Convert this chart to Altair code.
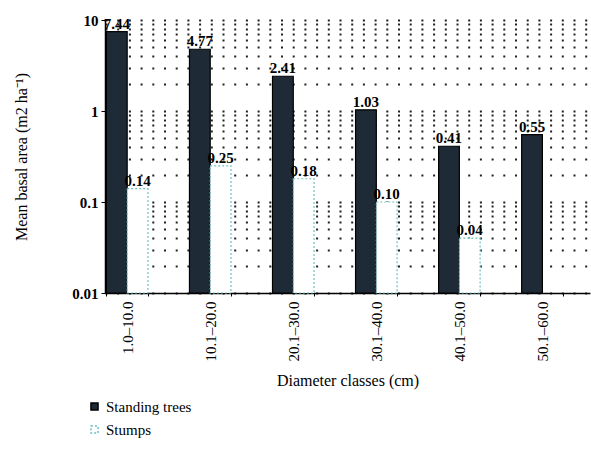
import altair as alt
import pandas as pd

classes = ["1.0–10.0", "10.1–20.0", "20.1–30.0", "30.1–40.0", "40.1–50.0", "50.1–60.0"]
standing = [7.44, 4.77, 2.41, 1.03, 0.41, 0.55]
stumps = [0.14, 0.25, 0.18, 0.10, 0.04, None]
series = ["Standing trees", "Stumps"]

rows = []
for c, s, t in zip(classes, standing, stumps):
    rows.append({"cls": c, "series": series[0], "value": s, "label": f"{s:.2f}"})
    if t is not None:
        rows.append({"cls": c, "series": series[1], "value": t, "label": f"{t:.2f}"})
df = pd.DataFrame(rows)

grid_vals = [round(m * 10 ** e, 4) for e in (-2, -1, 0) for m in range(1, 10)] + [10]
is_major = "abs(round(log(datum.value)/LN10) - log(datum.value)/LN10) < 1e-6"

FONT = "Liberation Serif"

x_enc = alt.X(
    "cls:N",
    sort=classes,
    scale=alt.Scale(paddingInner=0.5, paddingOuter=0.17, align=0.05),
    axis=alt.Axis(
        title="Diameter classes (cm)",
        labelAngle=-90,
        labelFont=FONT,
        labelFontSize=15,
        labelColor="black",
        labelPadding=5,
        titleFont=FONT,
        titleFontSize=16,
        titleFontWeight="normal",
        titleColor="black",
        titlePadding=11,
        domainColor="black",
        domainWidth=1.5,
        tickColor="black",
        tickSize=3,
        tickBand="extent",
        grid=False,
    ),
)
xoff = alt.XOffset("series:N", scale=alt.Scale(domain=series, paddingInner=0, paddingOuter=0))
y_scale = alt.Scale(type="log", domain=[0.01, 10], clamp=True, nice=False)

bars = alt.Chart(df).mark_bar(strokeWidth=1.2).encode(
    x=x_enc,
    xOffset=xoff,
    y=alt.Y(
        "value:Q",
        scale=y_scale,
        axis=alt.Axis(
            title="Mean basal area (m2 ha⁻¹)",
            values=grid_vals,
            format="~g",
            labelExpr=f"{is_major} ? datum.label : ''",
            labelFont=FONT,
            labelFontSize=15,
            labelFontWeight="bold",
            labelColor="black",
            labelPadding=3,
            titleFont=FONT,
            titleFontSize=16,
            titleFontWeight="normal",
            titleColor="black",
            titlePadding=42,
            domainColor="black",
            domainWidth=1.5,
            tickColor="black",
            tickSize=4,
            tickOpacity={"condition": {"test": is_major, "value": 1}, "value": 0},
            grid=True,
            gridColor="#222222",
            gridDash=[2, 9.7],
            gridWidth=1.8,
        ),
    ),
    y2=alt.Y2(datum=0.01),
    color=alt.Color(
        "series:N",
        scale=alt.Scale(domain=series, range=["#1e2a36", "#ffffff"]),
        legend=alt.Legend(
            title=None,
            orient="none",
            legendX=-18,
            legendY=379,
            symbolType="square",
            symbolSize=50,
            labelFont=FONT,
            labelFontSize=15,
            labelColor="black",
            rowPadding=7,
            labelFontWeight="normal",
        ),
    ),
    stroke=alt.Stroke("series:N", scale=alt.Scale(domain=series, range=["#000000", "#6fbfbf"]), legend=None),
    strokeDash=alt.StrokeDash("series:N", scale=alt.Scale(domain=series, range=[[1, 0], [2, 2]]), legend=None),
)

labels = alt.Chart(df).mark_text(
    font=FONT, fontSize=15, fontWeight="bold", color="black", dy=-8, baseline="middle"
).encode(
    x=alt.X("cls:N", sort=classes),
    xOffset=xoff,
    y=alt.Y("value:Q", scale=y_scale),
    text="label:N",
)

chart = (
    alt.layer(bars, labels)
    .properties(
        width=485,
        height=273,
        autosize=alt.AutoSizeParams(type="none"),
        padding={"left": 105, "top": 20, "right": 1, "bottom": 172},
        background="white",
    )
    .configure(font=FONT)
    .configure_view(stroke=None)
    .configure_legend(labelFont=FONT, labelFontSize=15)
)

chart.save("out.html", embed_options={"renderer": "svg", "actions": False})
